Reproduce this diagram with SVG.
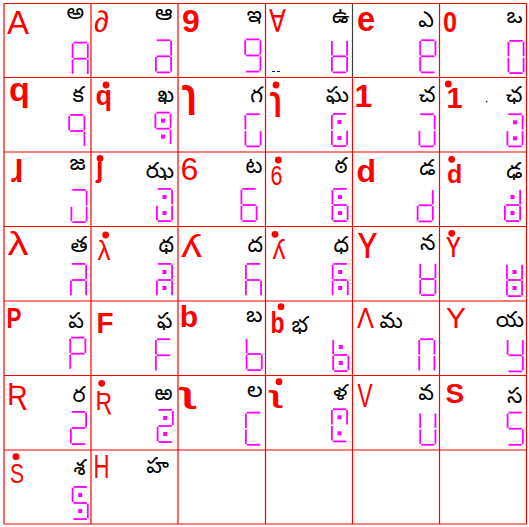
<svg xmlns="http://www.w3.org/2000/svg" xmlns:xlink="http://www.w3.org/1999/xlink" width="529" height="527" viewBox="0 0 529 527">
<style>
.bg{fill:#ffffff}
.grid line{stroke:#ff0000;stroke-width:1.2}
.r{font-family:"Liberation Sans","DejaVu Sans",sans-serif;fill:#ff0000}
.b{font-weight:bold}
.t{font-family:"Noto Sans Telugu","Noto Sans",sans-serif;font-size:22px;fill:#000000;text-anchor:end}
.ts{font-family:"Noto Sans Telugu","Noto Sans",sans-serif;font-size:22px;fill:#000000}
.seg use{stroke:#ff00ff;stroke-width:1.8;fill:#ff00ff}
.dot{fill:#ff0000}
</style>
<defs>
<path id="a" d="M1.8 0.9H15.2" fill="none"/>
<path id="b" d="M16.1 1.8V16.2" fill="none"/>
<path id="c" d="M16.1 17.8V32.2" fill="none"/>
<path id="d" d="M1.8 33.1H15.2" fill="none"/>
<path id="e" d="M0.9 17.8V32.2" fill="none"/>
<path id="f" d="M0.9 1.8V16.2" fill="none"/>
<path id="g" d="M1.8 17H15.2" fill="none"/>
<g id="p" stroke="none" fill="#ff00ff"><rect x="6.5" y="7" width="4" height="4"/><rect x="6.5" y="23" width="4" height="4"/></g>
</defs>
<rect class="bg" x="0" y="0" width="529" height="527"/>
<g id="grid" class="grid">
<line x1="4" y1="3.5" x2="4" y2="524"/>
<line x1="91" y1="3.5" x2="91" y2="524"/>
<line x1="178" y1="3.5" x2="178" y2="524"/>
<line x1="265.5" y1="3.5" x2="265.5" y2="524"/>
<line x1="352.5" y1="3.5" x2="352.5" y2="524"/>
<line x1="439.5" y1="3.5" x2="439.5" y2="524"/>
<line x1="526.5" y1="3.5" x2="526.5" y2="524"/>
<line x1="4" y1="3.5" x2="526.5" y2="3.5"/>
<line x1="4" y1="77.5" x2="526.5" y2="77.5"/>
<line x1="4" y1="152" x2="526.5" y2="152"/>
<line x1="4" y1="226.5" x2="526.5" y2="226.5"/>
<line x1="4" y1="301" x2="526.5" y2="301"/>
<line x1="4" y1="375.5" x2="526.5" y2="375.5"/>
<line x1="4" y1="450" x2="526.5" y2="450"/>
<line x1="4" y1="524" x2="526.5" y2="524"/>
<line x1="352.5" y1="3.5" x2="352.5" y2="77.5" style="stroke:#404040;stroke-width:1"/>
</g>

<g id="c1"><text class="r" x="7" y="33.5" font-size="33">A</text><text class="t" x="84" y="18.5">అ</text>
<g class="seg" transform="translate(71.7,41.7)"><use href="#a"/><use href="#b"/><use href="#c"/><use href="#e"/><use href="#f"/><use href="#g"/></g></g>
<g id="c2"><text class="r" x="94" y="31.5" font-size="30">∂</text><text class="t" x="172.5" y="20">ఆ</text>
<g class="seg" transform="translate(155,39.3)"><use href="#a"/><use href="#b"/><use href="#c"/><use href="#d"/><use href="#e"/><use href="#g"/></g></g>
<g id="c3"><text class="r b" x="182" y="31.7" font-size="32">9</text><text class="t" x="262" y="21.7">ఇ</text>
<g class="seg" transform="translate(244.3,38.5)"><use href="#a"/><use href="#b"/><use href="#c"/><use href="#d"/><use href="#f"/><use href="#g"/></g></g>
<g id="c4"><text class="r" x="269" y="31.7" font-size="31" textLength="17" lengthAdjust="spacingAndGlyphs">∀</text><text class="t" x="349.5" y="23">ఉ</text>
<g class="seg" transform="translate(331,39.3)"><use href="#b"/><use href="#c"/><use href="#d"/><use href="#e"/><use href="#f"/><use href="#g"/></g>
<line x1="272" y1="71.5" x2="280" y2="71.5" stroke="#0000ff" stroke-width="1" stroke-dasharray="3,2"/></g>
<g id="c5"><text class="r b" x="357" y="30.5" font-size="35" textLength="18" lengthAdjust="spacingAndGlyphs">e</text><text class="t" x="434" y="26.5">ఎ</text>
<g class="seg" transform="translate(419.3,39.3)"><use href="#a"/><use href="#b"/><use href="#d"/><use href="#e"/><use href="#f"/><use href="#g"/></g></g>
<g id="c6"><text class="r b" x="443" y="31.7" font-size="30" textLength="14" lengthAdjust="spacingAndGlyphs">0</text><text class="t" x="522.5" y="23">ఒ</text>
<g class="seg" transform="translate(507.5,40)"><use href="#a"/><use href="#b"/><use href="#c"/><use href="#d"/><use href="#e"/><use href="#f"/></g></g>

<g id="c7"><text class="r b" x="9" y="101" font-size="34">q</text><text class="t" x="84" y="101.5">క</text>
<g class="seg" transform="translate(68.3,114)"><use href="#a"/><use href="#b"/><use href="#c"/><use href="#f"/><use href="#g"/></g></g>
<g id="c8"><circle class="dot" cx="106" cy="85" r="3.4"/><text class="r b" x="95.5" y="104.5" font-size="27">q</text><text class="t" x="174" y="101.5">ఖ</text>
<g class="seg" transform="translate(154.5,111.7)"><use href="#a"/><use href="#b"/><use href="#c"/><use href="#f"/><use href="#g"/><use href="#p"/></g></g>
<g id="c9"><text class="r b" x="182" y="106.7" font-size="40" textLength="15" lengthAdjust="spacingAndGlyphs">ɿ</text><text class="t" x="263" y="101.5">గ</text>
<g class="seg" transform="translate(244.5,113.3)"><use href="#a"/><use href="#c"/><use href="#d"/><use href="#e"/><use href="#f"/></g></g>
<g id="c10"><circle class="dot" cx="276" cy="85" r="3.4"/><text class="r b" x="270" y="110" font-size="33" textLength="12" lengthAdjust="spacingAndGlyphs">ɿ</text><text class="t" x="349" y="101.5">ఘ</text>
<g class="seg" transform="translate(331,113)"><use href="#a"/><use href="#c"/><use href="#d"/><use href="#e"/><use href="#f"/><use href="#p"/></g></g>
<g id="c11"><text class="r b" x="354.5" y="106.7" font-size="32">1</text><text class="t" x="435.5" y="101.5">చ</text>
<g class="seg" transform="translate(418.5,113.3)"><use href="#a"/><use href="#b"/><use href="#c"/><use href="#d"/><use href="#e"/></g></g>
<g id="c12"><circle class="dot" cx="448.3" cy="84" r="3.4"/><text class="r b" x="446.5" y="108.3" font-size="29">1</text><text class="t" x="522.5" y="101.5">ఛ</text>
<circle cx="486.7" cy="101.7" r="0.8" fill="#000000"/>
<g class="seg" transform="translate(506.5,113.3)"><use href="#a"/><use href="#b"/><use href="#c"/><use href="#d"/><use href="#e"/><use href="#p"/></g></g>

<g id="c13"><text class="r b" x="11" y="181.7" font-size="32">ɺ</text><text class="t" x="85.5" y="170">జ</text>
<g class="seg" transform="translate(70.5,189)"><use href="#a"/><use href="#b"/><use href="#c"/><use href="#d"/><use href="#e"/></g></g>
<g id="c14"><circle class="dot" cx="100" cy="158.5" r="3.4"/><text class="r b" x="96" y="177" font-size="27">ȷ</text><text class="t" x="174" y="178">ఝ</text>
<g class="seg" transform="translate(156,188)"><use href="#a"/><use href="#b"/><use href="#c"/><use href="#d"/><use href="#e"/><use href="#p"/></g></g>
<g id="c15"><text class="r" x="180.5" y="180.3" font-size="32">6</text><text class="t" x="262.5" y="173.3">ట</text>
<g class="seg" transform="translate(240.5,188)"><use href="#a"/><use href="#c"/><use href="#d"/><use href="#e"/><use href="#f"/><use href="#g"/></g></g>
<g id="c16"><circle class="dot" cx="278.3" cy="160" r="3.4"/><text class="r" x="270.5" y="185" font-size="27" textLength="12" lengthAdjust="spacingAndGlyphs">6</text><text class="t" x="347.5" y="173.3">ఠ</text>
<g class="seg" transform="translate(331.5,188)"><use href="#a"/><use href="#c"/><use href="#d"/><use href="#e"/><use href="#f"/><use href="#g"/><use href="#p"/></g></g>
<g id="c17"><text class="r b" x="356.5" y="181.7" font-size="32">d</text><text class="t" x="435.5" y="175">డ</text>
<g class="seg" transform="translate(416.7,188.3)"><use href="#b"/><use href="#c"/><use href="#d"/><use href="#e"/><use href="#g"/></g></g>
<g id="c18"><circle class="dot" cx="451.7" cy="159.3" r="3.4"/><text class="r b" x="447" y="183.3" font-size="25">d</text><text class="t" x="522.5" y="178">ఢ</text>
<g class="seg" transform="translate(504,188)"><use href="#b"/><use href="#c"/><use href="#d"/><use href="#e"/><use href="#g"/><use href="#p"/></g></g>

<g id="c19"><text class="r" x="7.5" y="255" font-size="34" textLength="21" lengthAdjust="spacingAndGlyphs">λ</text><text class="t" x="87.5" y="251.5">త</text>
<g class="seg" transform="translate(70,263)"><use href="#a"/><use href="#b"/><use href="#c"/><use href="#e"/><use href="#g"/></g></g>
<g id="c20"><circle class="dot" cx="105.7" cy="235" r="3.4"/><text class="r" x="97.5" y="260" font-size="27" textLength="13" lengthAdjust="spacingAndGlyphs">λ</text><text class="t" x="174" y="251.5">థ</text>
<g class="seg" transform="translate(156,263)"><use href="#a"/><use href="#b"/><use href="#c"/><use href="#e"/><use href="#g"/><use href="#p"/></g></g>
<g id="c21"><text class="r" x="181" y="256.7" font-size="32" textLength="21" lengthAdjust="spacingAndGlyphs">ʎ</text><text class="t" x="263" y="251.5">ద</text>
<g class="seg" transform="translate(245,263)"><use href="#a"/><use href="#c"/><use href="#e"/><use href="#f"/><use href="#g"/></g></g>
<g id="c22"><circle class="dot" cx="275" cy="234.3" r="3.4"/><text class="r" x="272.5" y="259" font-size="27" textLength="13" lengthAdjust="spacingAndGlyphs">ʎ</text><text class="t" x="349" y="251.5">ధ</text>
<g class="seg" transform="translate(331.7,263)"><use href="#a"/><use href="#c"/><use href="#e"/><use href="#f"/><use href="#g"/><use href="#p"/></g></g>
<g id="c23"><text class="r" x="357.5" y="258.3" font-size="46" textLength="20" lengthAdjust="spacingAndGlyphs">ʏ</text><text class="t" x="435.5" y="250">న</text>
<g class="seg" transform="translate(419.3,262)"><use href="#b"/><use href="#c"/><use href="#d"/><use href="#e"/><use href="#f"/><use href="#g"/></g></g>
<g id="c24"><circle class="dot" cx="451.7" cy="233.3" r="3.4"/><text class="r" x="446" y="256.7" font-size="36" textLength="15" lengthAdjust="spacingAndGlyphs">ʏ</text>
<g class="seg" transform="translate(506,263)"><use href="#b"/><use href="#c"/><use href="#d"/><use href="#e"/><use href="#f"/><use href="#g"/><use href="#p"/></g></g>

<g id="c25"><text class="r b" x="6.5" y="328.3" font-size="30" textLength="15" lengthAdjust="spacingAndGlyphs">P</text><text class="t" x="84" y="328">ప</text>
<g class="seg" transform="translate(69.3,336.7)"><use href="#a"/><use href="#b"/><use href="#e"/><use href="#f"/><use href="#g"/></g></g>
<g id="c26"><text class="r b" x="96.5" y="333.3" font-size="30" textLength="17" lengthAdjust="spacingAndGlyphs">F</text><text class="t" x="172.5" y="328">ఫ</text>
<g class="seg" transform="translate(155,338.3)"><use href="#a"/><use href="#e"/><use href="#f"/><use href="#g"/></g></g>
<g id="c27"><text class="r b" x="179.7" y="326.7" font-size="30">b</text><text class="t" x="262.5" y="321.7">బ</text>
<g class="seg" transform="translate(245.7,337)"><use href="#c"/><use href="#d"/><use href="#e"/><use href="#f"/><use href="#g"/></g></g>
<g id="c28"><circle class="dot" cx="281" cy="306.7" r="3.4"/><text class="r b" x="270.5" y="333.3" font-size="29" textLength="14" lengthAdjust="spacingAndGlyphs">b</text><text class="ts" x="291.5" y="331.7">భ</text>
<g class="seg" transform="translate(332.3,338)"><use href="#c"/><use href="#d"/><use href="#e"/><use href="#f"/><use href="#g"/><use href="#p"/></g></g>
<g id="c29"><text class="r" x="357" y="328.3" font-size="30" textLength="17" lengthAdjust="spacingAndGlyphs">Λ</text><text class="ts" x="379.5" y="328.3">మ</text>
<g class="seg" transform="translate(418.3,338.3)"><use href="#a"/><use href="#b"/><use href="#c"/><use href="#e"/><use href="#f"/></g></g>
<g id="c30"><text class="r" x="446" y="328.3" font-size="30" textLength="20" lengthAdjust="spacingAndGlyphs">Y</text><text class="t" x="524" y="326.7">య</text>
<g class="seg" transform="translate(506.7,338.3)"><use href="#b"/><use href="#c"/><use href="#d"/><use href="#f"/><use href="#g"/></g></g>

<g id="c31"><text class="r" x="7" y="405" font-size="32" textLength="20" lengthAdjust="spacingAndGlyphs">Ʀ</text><text class="t" x="85.5" y="401.7">ర</text>
<g class="seg" transform="translate(70,411)"><use href="#a"/><use href="#b"/><use href="#d"/><use href="#e"/><use href="#g"/></g></g>
<g id="c32"><circle class="dot" cx="101.7" cy="383.3" r="3.4"/><text class="r" x="95.5" y="410" font-size="27" textLength="16" lengthAdjust="spacingAndGlyphs">Ʀ</text><text class="t" x="172.5" y="400">ఱ</text>
<g class="seg" transform="translate(156.7,409)"><use href="#a"/><use href="#b"/><use href="#d"/><use href="#e"/><use href="#g"/><use href="#p"/></g></g>
<g id="c33"><text class="r b" x="180.5" y="403.3" font-size="30" textLength="15" lengthAdjust="spacingAndGlyphs">ʅ</text><text class="t" x="262.5" y="396.7">ల</text>
<g class="seg" transform="translate(245,411.7)"><use href="#a"/><use href="#d"/><use href="#e"/><use href="#f"/></g></g>
<g id="c34"><circle class="dot" cx="279" cy="381.7" r="3.4"/><text class="r b" x="270" y="403.3" font-size="24" textLength="12" lengthAdjust="spacingAndGlyphs">ʅ</text><text class="t" x="347.5" y="400">ళ</text>
<g class="seg" transform="translate(331,408.3)"><use href="#a"/><use href="#b"/><use href="#d"/><use href="#e"/><use href="#f"/><use href="#p"/></g></g>
<g id="c35"><text class="r" x="357.5" y="406.7" font-size="34" textLength="15" lengthAdjust="spacingAndGlyphs">V</text><text class="t" x="434" y="400">వ</text>
<g class="seg" transform="translate(419.3,411.7)"><use href="#b"/><use href="#c"/><use href="#d"/><use href="#e"/><use href="#f"/></g></g>
<g id="c36"><text class="r b" x="445.5" y="403.3" font-size="28">S</text><text class="t" x="522.5" y="403.3">స</text>
<g class="seg" transform="translate(506.7,411.7)"><use href="#a"/><use href="#c"/><use href="#d"/><use href="#f"/><use href="#g"/></g></g>

<g id="c37"><circle class="dot" cx="16" cy="456.7" r="3.4"/><text class="r" x="10" y="482.7" font-size="28" textLength="14" lengthAdjust="spacingAndGlyphs">S</text><text class="t" x="85.5" y="475">శ</text>
<g class="seg" transform="translate(71.7,486)"><use href="#a"/><use href="#c"/><use href="#d"/><use href="#f"/><use href="#g"/><use href="#p"/></g></g>
<g id="c38"><text class="r" x="93.5" y="478.3" font-size="34" textLength="16" lengthAdjust="spacingAndGlyphs">H</text><text class="t" x="169" y="473.3">హ</text></g>
</svg>
